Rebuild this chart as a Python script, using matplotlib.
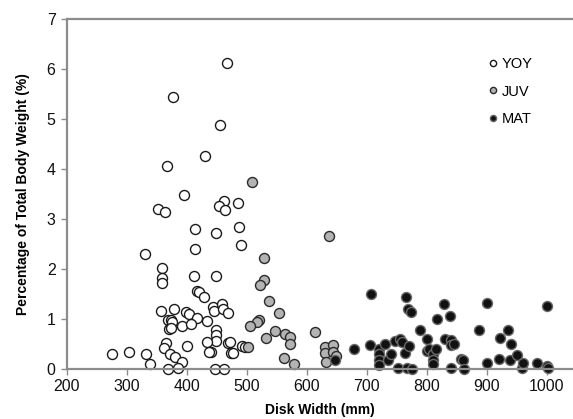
import matplotlib
matplotlib.use("Agg")
import matplotlib.pyplot as plt

plt.rcParams["font.family"] = ["Liberation Sans", "DejaVu Sans"]

# disk width (mm) and percentage of total body weight, by life stage
yoy_dw = [467, 378, 455, 430, 368, 395, 353, 364, 462, 454, 464, 485, 414, 449, 487, 491,
          414, 330, 359, 359, 359, 413, 449, 418, 421, 429, 358, 379, 399, 404, 417, 369,
          374, 376, 370, 374, 393, 408, 434, 444, 446, 459, 461, 469, 449, 449, 449, 434,
          441, 438, 469, 472, 474, 477, 493, 498, 365, 363, 400, 373, 380, 393, 276, 304,
          333, 339, 369, 385, 448, 463]
yoy_pct = [6.12, 5.43, 4.87, 4.25, 4.06, 3.47, 3.19, 3.14, 3.36, 3.25, 3.17, 3.31, 2.81, 2.73,
           2.85, 2.49, 2.41, 2.30, 2.02, 1.82, 1.73, 1.87, 1.86, 1.57, 1.54, 1.45, 1.17, 1.20,
           1.15, 1.11, 1.03, 0.98, 0.99, 0.95, 0.80, 0.83, 0.87, 0.91, 0.97, 1.25, 1.17, 1.30,
           1.21, 1.13, 0.79, 0.68, 0.57, 0.54, 0.34, 0.35, 0.52, 0.54, 0.32, 0.33, 0.46, 0.45,
           0.53, 0.43, 0.46, 0.31, 0.24, 0.15, 0.31, 0.35, 0.30, 0.11, 0.01, 0.03, 0.01, 0.01]

juv_dw = [509, 529, 529, 523, 537, 554, 520, 518, 505, 547, 564, 573, 573, 533, 614, 503,
          563, 579, 638, 630, 644, 630, 644, 649, 633]
juv_pct = [3.73, 2.23, 1.79, 1.69, 1.37, 1.13, 0.98, 0.94, 0.87, 0.76, 0.71, 0.65, 0.51, 0.62,
           0.75, 0.45, 0.23, 0.11, 2.67, 0.45, 0.49, 0.32, 0.35, 0.26, 0.14]

mat_dw = [648, 679, 705, 707, 720, 720, 720, 720, 731, 736, 740, 748, 752, 756, 759, 764,
          766, 767, 769, 771, 774, 775, 789, 800, 800, 804, 810, 810, 811, 815, 818, 829,
          831, 839, 840, 840, 845, 840, 857, 860, 862, 888, 900, 900, 920, 923, 936, 939,
          941, 951, 959, 961, 984, 1000, 1001, 1003]
mat_pct = [0.19, 0.41, 0.49, 1.51, 0.40, 0.31, 0.19, 0.08, 0.51, 0.19, 0.31, 0.56, 0.03, 0.60,
           0.54, 0.33, 1.45, 0.03, 1.20, 0.47, 1.15, 0.01, 0.78, 0.61, 0.36, 0.40, 0.30, 0.19,
           0.10, 0.40, 1.00, 1.30, 0.61, 1.06, 0.58, 0.48, 0.50, 0.03, 0.20, 0.18, 0.01, 0.78,
           1.33, 0.12, 0.21, 0.63, 0.79, 0.18, 0.51, 0.28, 0.03, 0.13, 0.13, 1.26, 0.06, 0.02]

x_ticks = [200, 300, 400, 500, 600, 700, 800, 900, 1000]
y_ticks = [0, 1, 2, 3, 4, 5, 6, 7]

fig = plt.figure(figsize=(5.73, 4.19), dpi=100)
ax = fig.add_axes([0.1164, 0.1193, 0.8836, 0.8354])

groups = [
    ("YOY", yoy_dw, yoy_pct, "white", "#1a1a1a"),
    ("JUV", juv_dw, juv_pct, "#b3b3b3", "#2a2a2a"),
    ("MAT", mat_dw, mat_pct, "#111111", "#6a6a6a"),
]
for name, xs, ys, fc, ec in groups:
    ax.plot(xs, ys, ls="none", marker="o", ms=7.2, mfc=fc, mec=ec, mew=1.0,
            label=name, clip_on=False)

ax.set_xlim(200, 1044)
ax.set_ylim(0, 7)
ax.set_xticks(x_ticks)
ax.set_yticks(y_ticks)

for side in ("top", "left", "bottom"):
    ax.spines[side].set_color("#8c8c8c")
    ax.spines[side].set_linewidth(1.6)
ax.spines["right"].set_visible(False)
ax.tick_params(axis="both", direction="out", length=4, width=1, color="#8c8c8c",
               labelsize=11.5, labelcolor="#111111")
ax.tick_params(axis="x", pad=3)
ax.tick_params(axis="y", pad=4)

ax.set_xlabel("Disk Width (mm)", fontsize=10, fontweight="bold", labelpad=7)
ax.set_ylabel("Percentage of Total Body Weight (%)", fontsize=10, fontweight="bold",
              labelpad=12)

leg = ax.legend(loc="upper left", bbox_to_anchor=(0.819, 0.913), frameon=False,
                fontsize=10.5, markerscale=0.62, handlelength=0.6, handletextpad=0.3,
                labelspacing=0.95, borderpad=0)

fig.savefig("out.png", dpi=100)
